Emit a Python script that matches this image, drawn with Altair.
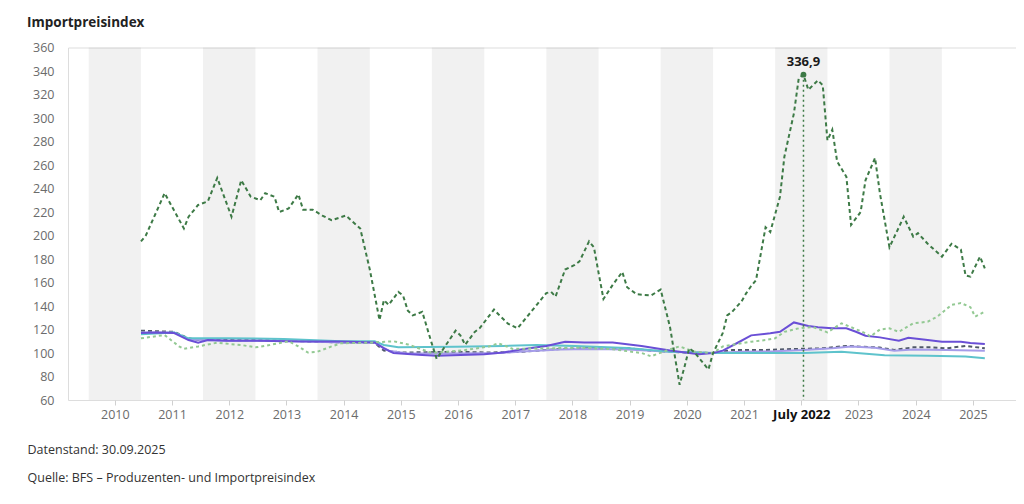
import altair as alt
import pandas as pd

# ---------------- data ----------------
energy_months = ["2010-12", "2011-01", "2011-05", "2011-09", "2011-10", "2011-12", "2012-02", "2012-04",
                 "2012-07", "2012-09", "2012-11", "2013-01", "2013-02", "2013-04", "2013-05", "2013-07",
                 "2013-09", "2013-10", "2013-12", "2014-02", "2014-04", "2014-07", "2014-10", "2014-12",
                 "2015-02", "2015-03", "2015-04", "2015-06", "2015-07", "2015-08", "2015-09", "2015-11",
                 "2016-01", "2016-02", "2016-04", "2016-06", "2016-07", "2016-08", "2016-10", "2016-11",
                 "2017-02", "2017-03", "2017-05", "2017-07", "2017-09", "2017-11", "2018-01", "2018-02",
                 "2018-03", "2018-05", "2018-07", "2018-08", "2018-10", "2018-11", "2018-12", "2019-01",
                 "2019-03", "2019-05", "2019-06", "2019-08", "2019-11", "2020-01", "2020-03", "2020-04",
                 "2020-05", "2020-06", "2020-07", "2020-08", "2020-09", "2020-11", "2020-12", "2021-02",
                 "2021-03", "2021-04", "2021-06", "2021-07", "2021-08", "2021-09", "2021-11", "2021-12",
                 "2022-02", "2022-03", "2022-05", "2022-06", "2022-07", "2022-08", "2022-10", "2022-11",
                 "2022-12", "2023-01", "2023-02", "2023-04", "2023-05", "2023-07", "2023-08", "2023-10",
                 "2023-11", "2024-01", "2024-03", "2024-04", "2024-06", "2024-07", "2024-09", "2024-12",
                 "2025-02", "2025-04", "2025-05", "2025-06", "2025-08", "2025-09"]
energy_values = [195, 200, 236, 206, 216, 226, 229, 249,
                 216, 247, 233, 230, 236, 233, 220, 223,
                 235, 222, 222, 217, 213, 217, 206, 171,
                 128, 145, 141, 152, 149, 136, 132, 135,
                 108, 95, 107, 119, 115, 107, 118, 121,
                 137, 133, 125, 121, 131, 141, 151, 152,
                 148, 171, 175, 178, 195, 190, 168, 146,
                 158, 169, 156, 150, 149, 154, 122, 97,
                 73, 88, 104, 101, 96, 86, 100, 117,
                 132, 135, 144, 151, 157, 162, 207, 203,
                 233, 267, 304, 334, 336.9, 324, 332, 328,
                 281, 290, 263, 250, 209, 220, 247, 266,
                 236, 190, 207, 216, 199, 202, 193, 182,
                 193, 188, 166, 165, 182, 172]

agri_months = ["2010-12", "2011-05", "2011-08", "2011-09", "2011-12", "2012-04", "2012-07", "2012-09",
               "2012-12", "2013-03", "2013-07", "2013-09", "2013-11", "2014-01", "2014-04", "2014-06",
               "2014-12", "2015-05", "2015-08", "2016-01", "2016-04", "2016-08", "2017-01", "2017-03",
               "2017-06", "2018-01", "2018-08", "2019-03", "2019-09", "2019-11", "2020-03", "2020-05",
               "2020-08", "2020-12", "2021-02", "2021-04", "2021-08", "2021-11", "2022-01", "2022-03",
               "2022-06", "2022-09", "2022-12", "2023-03", "2023-05", "2023-08", "2023-09", "2023-11",
               "2024-01", "2024-03", "2024-06", "2024-09", "2024-11", "2025-02", "2025-04", "2025-06",
               "2025-07", "2025-09"]
agri_values = [112.5, 115.3, 105.6, 103.5, 105.6, 108.8, 107.5, 106.8,
               104.8, 106.8, 110, 105.6, 100.4, 101.1, 105.6, 108.3,
               108.8, 110, 107.3, 100, 101.1, 102.5, 105.6, 108.3,
               103.5, 104, 104.5, 103.2, 100, 97.2, 103.2, 105.6,
               101.1, 100, 105.6, 107, 109.6, 111, 112.5, 118,
               121, 122, 117.6, 125.3, 122, 116.8, 114, 120,
               121, 118, 125.3, 126.6, 130.9, 141, 142.5, 139,
               131, 135.2]

total_months = ["2010-12", "2011-07", "2011-10", "2011-12", "2012-06", "2013-06", "2014-06", "2015-01",
                "2015-03", "2015-07", "2016-06", "2017-01", "2017-08", "2018-03", "2018-09", "2019-06",
                "2019-11", "2020-06", "2020-12", "2021-04", "2021-10", "2022-05", "2022-11", "2023-04",
                "2023-07", "2023-11", "2024-02", "2024-06", "2024-10", "2025-01", "2025-05", "2025-09"]
total_values = [119, 118, 112.5, 111, 111, 110.5, 109, 108.5,
                102, 100.4, 101, 100.4, 101, 103.2, 104, 104.2,
                102, 100.5, 100, 102.5, 102.5, 103.4, 104, 106,
                105.4, 104.6, 102.6, 104.8, 104.8, 104, 106, 104]

lav_months = ["2010-12", "2011-07", "2011-10", "2012-06", "2013-06", "2014-06", "2015-01", "2015-04",
              "2015-08", "2016-06", "2017-03", "2017-09", "2018-04", "2018-10", "2019-06", "2020-03",
              "2020-12", "2021-06", "2022-01", "2022-07", "2023-01", "2023-05", "2023-10", "2024-02",
              "2024-06", "2025-01", "2025-09"]
lav_values = [117.5, 117.5, 111.5, 110.5, 110.5, 109, 108.8, 102,
              99.5, 99.5, 100, 101.5, 103, 103.5, 103, 101,
              100, 101, 101.5, 102.5, 104, 105.5, 104.5, 102,
              103, 102.5, 102]

teal_months = ["2010-12", "2011-07", "2011-10", "2012-06", "2013-06", "2014-06", "2015-01", "2015-03",
               "2015-06", "2016-06", "2017-04", "2017-11", "2018-07", "2019-06", "2020-03", "2020-12",
               "2021-06", "2022-07", "2023-03", "2023-12", "2024-09", "2025-05", "2025-09"]
teal_values = [116, 117.5, 112.5, 112.5, 112, 110, 110, 106.8,
               104.8, 105.4, 106, 106.8, 106, 104.2, 101.1, 100,
               100, 100, 101, 98, 97.7, 97, 95.5]

purple_months = ["2010-12", "2011-03", "2011-07", "2011-10", "2011-12", "2012-02", "2012-06", "2013-01",
                 "2013-09", "2014-06", "2015-01", "2015-03", "2015-05", "2015-11", "2016-02", "2016-12",
                 "2017-04", "2017-08", "2018-01", "2018-05", "2018-09", "2019-03", "2019-09", "2020-03",
                 "2020-09", "2020-12", "2021-02", "2021-05", "2021-08", "2021-12", "2022-02", "2022-05",
                 "2022-08", "2022-10", "2023-01", "2023-04", "2023-06", "2023-08", "2023-11", "2024-03",
                 "2024-05", "2024-09", "2024-12", "2025-04", "2025-06", "2025-09"]
purple_values = [117, 117.5, 117, 111, 108.8, 111, 110.5, 110.5,
                 109.8, 109.8, 109, 104, 100, 98.3, 97.6, 99,
                 100.4, 103.2, 106, 109.6, 109, 109, 106, 102.1,
                 98.9, 100, 102, 108.3, 115, 116.8, 118, 126,
                 123, 121.9, 121, 121, 118.1, 114.7, 113.3, 110.5,
                 113, 111, 109.6, 109.6, 108.6, 107.7]

band_years = [2010, 2012, 2014, 2016, 2018, 2020, 2022, 2024]
tick_years = list(range(2010, 2026))
y_ticks = list(range(60, 361, 20))
peak_month = "2022-07"
peak_value = 336.9

title_text = "Importpreisindex"
footnotes = ["Datenstand: 30.09.2025", "Quelle: BFS – Produzenten- und Importpreisindex"]

# series styles: name, months, values, colour, dash
series = [
    ("Total", total_months, total_values, "#4f5868", [4, 3]),
    ("Lavendel", lav_months, lav_values, "#a59ce9", None),
    ("Türkis", teal_months, teal_values, "#5ec3cc", None),
    ("Violett", purple_months, purple_values, "#6a4fd6", None),
    ("Landwirtschaft", agri_months, agri_values, "#93c993", [3, 3]),
    ("Energie", energy_months, energy_values, "#3d7a46", [4, 3]),
]

# ---------------- chart ----------------
FONT = "Open Sans"
W, H = 948, 352.5

x_scale = alt.Scale(domain=[alt.DateTime(year=2009, month=9, date=5, utc=True),
                            alt.DateTime(year=2026, month=4, date=2, utc=True)])
y_scale = alt.Scale(domain=[60, 360], nice=False, zero=False)

is2022 = "utcyear(datum.value) == 2022"
x_axis = alt.Axis(
    values=[alt.DateTime(year=y, month=7, date=1, utc=True) for y in tick_years],
    labelExpr=f"{is2022} ? 'July 2022' : utcFormat(datum.value, '%Y')",
    labelFontWeight={"condition": {"test": is2022, "value": "bold"}, "value": "normal"},
    labelColor={"condition": {"test": is2022, "value": "#111111"}, "value": "#6b6b6b"},
    labelFontSize={"condition": {"test": is2022, "value": 13}, "value": 12.5},
    labelOverlap=False, labelFont=FONT, labelPadding=3,
    grid=False, domain=False, ticks=True, tickColor="#d0d0d0", tickSize=5,
    title=footnotes, titleAnchor="start", titleAlign="left", titleX=-41, titleY=53,
    titleBaseline="alphabetic", titleFont=FONT, titleFontSize=12.5, titleFontWeight="normal",
    titleColor="#333333", titleLineHeight=28,
)
y_axis = alt.Axis(values=y_ticks, tickCount=len(y_ticks), domain=False, ticks=False, labelPadding=14,
                  labelColor="#6b6b6b", labelFontSize=12.5, labelFont=FONT, labelOverlap=False,
                  gridColor="#ebebeb", gridWidth=1, title=None)

bands = pd.DataFrame({"start": [f"{y}-01-15" for y in band_years],
                      "end": [f"{y}-12-15" for y in band_years]})
band_layer = alt.Chart(bands).mark_rect(color="#000000", opacity=0.055).encode(
    x=alt.X("start:T", scale=x_scale, axis=x_axis),
    x2="end:T",
    y=alt.datum(360, scale=y_scale, axis=y_axis),
    y2=alt.datum(60),
)

layers = [band_layer]
for name, months, values, colour, dash in series:
    df = pd.DataFrame({"date": [m + "-15" for m in months], "value": values, "series": name})
    mk = dict(color=colour, strokeWidth=2, interpolate="linear")
    if dash:
        mk["strokeDash"] = dash
    layers.append(alt.Chart(df).mark_line(**mk).encode(
        x=alt.X("date:T", scale=x_scale, axis=x_axis),
        y=alt.Y("value:Q", scale=y_scale, axis=y_axis),
    ))

peak = pd.DataFrame({"date": [peak_month + "-15"], "value": [peak_value]})
peak_base = alt.Chart(peak).encode(x=alt.X("date:T", scale=x_scale, axis=x_axis),
                                   y=alt.Y("value:Q", scale=y_scale, axis=y_axis))
layers.append(peak_base.mark_rule(color="#3d7a46", strokeWidth=1.5, strokeDash=[2, 3]).encode(y2=alt.datum(60)))
layers.append(peak_base.mark_circle(color="#3d7a46", opacity=1, size=34))
layers.append(peak_base.mark_text(font=FONT, fontSize=13, fontWeight="bold", color="#1a1a1a",
                                  dy=-9, baseline="alphabetic").transform_calculate(
    label="replace(format(datum.value, '.1f'), '.', ',')").encode(text="label:N"))

chart = alt.layer(*layers).properties(
    width=W, height=H,
    title=alt.TitleParams(title_text, anchor="start", frame="group", dx=-41, dy=2, offset=14,
                          font=FONT, fontSize=13.5, fontWeight="bold", color="#222222"),
    autosize=alt.AutoSizeParams(type="none"),
    padding={"left": 60, "top": 39.5, "right": 0, "bottom": 96},
).configure_view(stroke=None).configure(font=FONT).configure_axisY(labelOverlap=False)

chart.save("out.html", embed_options={"renderer": "svg", "actions": False})
